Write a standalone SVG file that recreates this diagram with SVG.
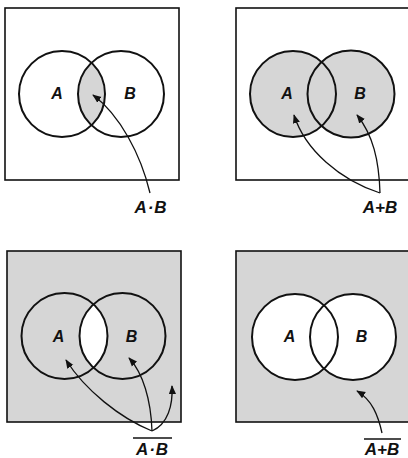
<svg xmlns="http://www.w3.org/2000/svg" width="408" height="458" viewBox="0 0 408 458">
<style>
.box{stroke:#111;stroke-width:1.6;}
.circ{fill:none;stroke:#111;stroke-width:2;}
.sh{fill:#d6d6d6;}
.wh{fill:#fff;}
.lbl{font-family:"Liberation Sans",Arial,sans-serif;font-weight:bold;font-style:italic;font-size:16px;fill:#111;text-anchor:middle;}
.exp{font-family:"Liberation Sans",Arial,sans-serif;font-weight:bold;font-style:italic;font-size:17px;fill:#111;text-anchor:middle;}
.arr{fill:none;stroke:#111;stroke-width:1.3;marker-end:url(#ah);}
.ov{stroke:#111;stroke-width:1.4;}
</style>
<defs>
<marker id="ah" viewBox="0 0 10 10" refX="9" refY="5" markerWidth="9" markerHeight="9" markerUnits="userSpaceOnUse" orient="auto">
<path d="M0,1 L10,5 L0,9 Z" fill="#111"/>
</marker>
<clipPath id="cB1"><circle cx="121" cy="94" r="43"/></clipPath>
<clipPath id="cB3"><circle cx="122.5" cy="336" r="43"/></clipPath>
</defs>

<g id="panel-AandB">
<rect class="box" x="5" y="8" width="174" height="172" fill="#fff"/>
<circle class="sh" cx="62" cy="94" r="43" clip-path="url(#cB1)"/>
<circle class="circ" cx="62" cy="94" r="43"/>
<circle class="circ" cx="121" cy="94" r="43"/>
<text class="lbl" x="57" y="99">A</text>
<text class="lbl" x="130" y="99">B</text>
<text class="exp" x="151" y="213" letter-spacing="1">A·B</text>
</g>

<g id="panel-AorB">
<rect class="box" x="236" y="8" width="180" height="172" fill="#fff"/>
<circle class="sh" cx="293" cy="94" r="43"/>
<circle class="sh" cx="351" cy="94" r="43.5"/>
<circle class="circ" cx="293" cy="94" r="43"/>
<circle class="circ" cx="351" cy="94" r="43.5"/>
<text class="lbl" x="287" y="99">A</text>
<text class="lbl" x="360" y="99">B</text>
<text class="exp" x="380" y="213">A+B</text>
</g>

<g id="panel-notAandB">
<rect class="box sh" x="7" y="251" width="174" height="171"/>
<circle class="wh" cx="64.5" cy="336" r="43" clip-path="url(#cB3)"/>
<circle class="circ" cx="64.5" cy="336" r="43"/>
<circle class="circ" cx="122.5" cy="336" r="43"/>
<text class="lbl" x="58.5" y="342">A</text>
<text class="lbl" x="131.5" y="342">B</text>
<line class="ov" x1="133" y1="438" x2="172" y2="438"/>
<text class="exp" x="152.5" y="455" letter-spacing="1">A·B</text>
</g>

<g id="panel-notAorB">
<rect class="box sh" x="236" y="251" width="180" height="171"/>
<circle class="wh" cx="295" cy="337" r="43"/>
<circle class="wh" cx="353" cy="337" r="43"/>
<circle class="circ" cx="295" cy="337" r="43"/>
<circle class="circ" cx="353" cy="337" r="43"/>
<text class="lbl" x="289.5" y="342">A</text>
<text class="lbl" x="361.5" y="342">B</text>
<line class="ov" x1="364" y1="439" x2="401" y2="439"/>
<text class="exp" x="382" y="455">A+B</text>
</g>

<g id="connectors">
<path class="arr" d="M150,193 C141,155 120,115 93,95"/>
<path class="arr" d="M380,193 C340,180 305,150 294,115"/>
<path class="arr" d="M380,193 C379,160 373,135 357,115"/>
<path class="arr" d="M152,431 C120,418 85,390 66,360"/>
<path class="arr" d="M152,431 C151,400 143,373 129,358"/>
<path class="arr" d="M152,431 C168,424 173,405 172,386"/>
<path class="arr" d="M382,433 C378,415 372,400 357,391"/>
</g>
</svg>
